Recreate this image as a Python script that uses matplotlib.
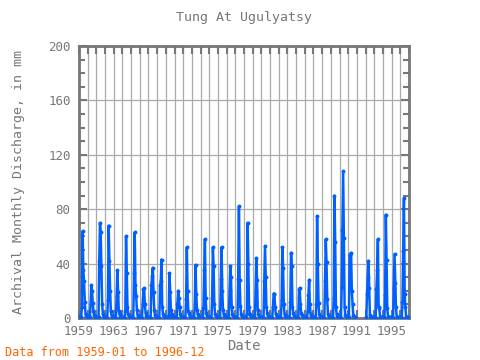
import numpy as np
import matplotlib
matplotlib.use("Agg")
import matplotlib.pyplot as plt

start_year = 1959
end_year = 1996
nan = np.nan

# Monthly discharge (mm), one row per year Jan..Dec
discharge = [
    [1.5, 1.0, 0.8, 0.8, 8, 64, 35, 27, 12, 3, 1.5, 1.0],   # 1959
    [0.8, 0.6, 0.5, 0.5, 10, 24, 20, 11, 5, 2, 1.0, 0.8],   # 1960
    [0.6, 0.5, 0.4, 0.4, 42, 70, 63, 38, 10, 3, 1.0, 0.6],  # 1961
    [0.5, 0.4, 0.3, 0.3, 13, 68, 42, 20, 5, 2, 1.0, 0.5],   # 1962
    [0.5, 0.4, 0.3, 0.3, 16, 35, 19, 5, 3, 1, 0.8, 0.5],    # 1963
    [0.5, 0.4, 0.3, 0.3, 5, 60, 33, 8, 3, 1.5, 0.8, 0.5],   # 1964
    [0.5, 0.4, 0.3, 0.3, 33, 63, 24, 16, 6, 2, 1.0, 0.5],   # 1965
    [0.5, 0.4, 0.3, 0.3, 10, 21, 22, 10, 4, 1.5, 1.0, 0.5], # 1966
    [0.5, 0.4, 0.3, 0.3, 24, 31, 37, 19, 6, 2, 1.0, 0.5],   # 1967
    [0.5, 0.4, 0.3, 0.3, 24, 27, 43, 8, 3, 1.5, 1.0, 0.5],  # 1968
    [0.5, 0.4, 0.3, 0.3, 2, 33, 19, 6, 3, 1, 0.8, 0.5],     # 1969
    [0.5, 0.4, 0.3, 0.3, 10, 20, 15, 8, 3, 1, 0.8, 0.5],    # 1970
    [0.5, 0.4, 0.3, 0.3, 14, 52, 20, 5, 4, 1.5, 1.0, 0.5],  # 1971
    [0.5, 0.4, 0.3, 0.3, 10, 39, 18, 6, 3, 1, 0.8, 0.5],    # 1972
    [0.5, 0.4, 0.3, 0.3, 7, 35, 58, 15, 4, 1.5, 1.0, 0.5],  # 1973
    [0.5, 0.4, 0.3, 0.3, 15, 52, 38, 10, 3, 1.5, 1.0, 0.5], # 1974
    [0.5, 0.4, 0.3, 0.3, 29, 52, 20, 6, 3, 1.5, 1.0, 0.5],  # 1975
    [0.5, 0.4, 0.3, 0.3, 20, 38, 30, 8, 3, 1.5, 1.0, 0.5],  # 1976
    [0.5, 0.4, 0.3, 0.3, 29, 82, 28, 9, 3, 1.5, 1.0, 0.5],  # 1977
    [0.5, 0.4, 0.3, 0.3, 3, 70, 40, 8, 3, 1.5, 1.0, 0.5],   # 1978
    [0.5, 0.4, 0.3, 0.3, 20, 44, 28, 6, 3, 1.5, 1.0, 0.5],  # 1979
    [0.5, 0.4, 0.3, 0.3, 27, 53, 30, 8, 4, 1.5, 1.0, 0.5],  # 1980
    [0.5, 0.4, 0.3, 0.3, 8, 18, 18, 8, 3, 1.5, 1.0, 0.5],   # 1981
    [0.5, 0.4, 0.3, 0.3, 13, 52, 37, 10, 3, 1.5, 1.0, 0.5], # 1982
    [0.5, 0.4, 0.3, 0.3, 12, 48, 38, 8, 4, 1.5, 1.0, 0.5],  # 1983
    [0.5, 0.4, 0.3, 0.3, 21, 22, 10, 4, 2, 1.5, 1.0, 0.5],  # 1984
    [0.5, 0.4, 0.3, 0.3, 5, 17, 28, 10, 3, 1.5, 1.0, 0.5],  # 1985
    [0.5, 0.4, 0.3, 0.3, 10, 75, 40, 11, 3, 1.5, 1.0, 0.5], # 1986
    [0.5, 0.4, 0.3, 0.3, 27, 58, 41, 14, 3, 1.5, 1.0, 0.5], # 1987
    [0.5, 0.4, 0.3, 0.3, 15, 90, 56, 8, 3, 1.5, 1.0, 0.5],  # 1988
    [0.5, 0.4, 0.3, 23, 65, 108, 59, 8, 2, 1.5, 1.0, 0.5],  # 1989
    [0.5, 0.4, 46, 47, 48, 20, 10, 2, 1, 0.5, 0.5, nan],    # 1990
    [nan, nan, nan, nan, nan, nan, nan, nan, nan, nan, nan, nan],  # 1991
    [nan, 0.5, 18, 30, 42, 22, 2, 0.5, 0.5, 0.5, 0.5, 0.5], # 1992
    [0.5, 0.4, 0.3, 21, 35, 58, 8, 7, 1, 0.5, 0.5, 0.5],    # 1993
    [0.5, 0.4, 0.3, 17, 76, 43, 7, 1, 0.5, 0.5, 0.5, 0.5],  # 1994
    [0.5, 0.4, 0.3, 22, 47, 26, 8, 1, 0.5, 0.5, 0.5, 0.5],  # 1995
    [0.5, 0.4, 0.3, 12, 49, 88, 18, 8, 1, 0.5, 0.5, 0.5],   # 1996
]

values = np.array(discharge, dtype=float).ravel()
dates = start_year + np.arange(values.size) / 12.0

gray = "#777777"
mono = "DejaVu Sans Mono"

fig = plt.figure(figsize=(4.8, 3.6), dpi=100)
ax = fig.add_axes([79 / 480, 1 - 318 / 360, 330 / 480, 272 / 360])

ax.plot(dates, values, color="#0060ff", lw=1.8, marker="o", ms=1.8,
        mec="#0060ff", mfc="#0060ff", zorder=3)

ax.set_xlim(start_year, end_year + 1)
ax.set_ylim(0, 200)

ax.set_xticks(np.arange(start_year, end_year + 2, 1), minor=True)
ax.set_xticks(np.arange(start_year, end_year + 1, 4))
ax.set_xticklabels([str(y) for y in range(start_year, end_year + 1, 4)])
ax.set_yticks(np.arange(0, 201, 40))
ax.set_yticks(np.arange(0, 201, 10), minor=True)

ax.grid(True, which="minor", axis="x", color="#aaaaaa", lw=0.9, zorder=0)
ax.grid(True, which="major", axis="x", color="#aaaaaa", lw=0.9, zorder=0)
ax.grid(True, which="major", axis="y", color="#aaaaaa", lw=0.9, zorder=0)

ax.tick_params(axis="both", which="both", direction="in", colors=gray,
               top=True, right=True, labelsize=9)
ax.tick_params(axis="x", which="both", length=6, width=1.5, pad=5)
ax.tick_params(axis="y", which="major", length=6, width=1.5, pad=6)
ax.tick_params(axis="y", which="minor", length=4, width=1.5)
for lab in ax.get_xticklabels() + ax.get_yticklabels():
    lab.set_family(mono)
    lab.set_color(gray)

for s in ax.spines.values():
    s.set_color(gray)
    s.set_linewidth(2)

ax.set_title("Tung At Ugulyatsy", family=mono, color=gray, fontsize=9.5, pad=18)
ax.set_xlabel("Date", family=mono, color=gray, fontsize=10, labelpad=1)
ax.set_ylabel("Archival Monthly Discharge, in mm", family=mono, color=gray,
              fontsize=9.5, labelpad=17)

fig.text(5 / 480, 1 - 352 / 360, "Data from 1959-01 to 1996-12", family=mono,
         color="#ff6600", fontsize=8.5, va="center", ha="left")

fig.savefig("out.png", dpi=100)
